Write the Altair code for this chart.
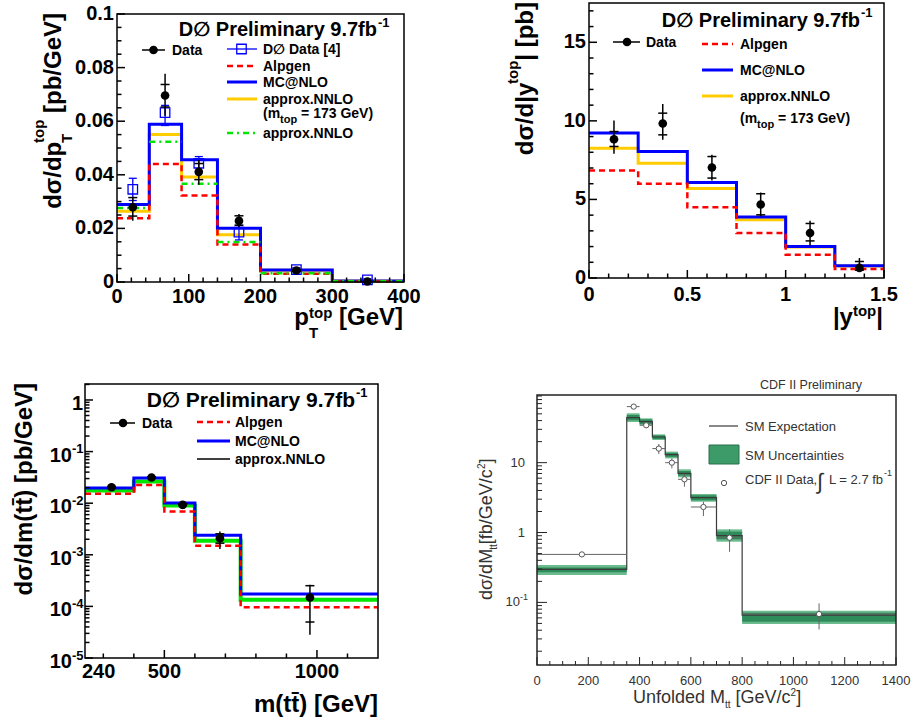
import altair as alt
import pandas as pd

SANS = "Liberation Sans, DejaVu Sans, sans-serif"
BLUE, RED, YELLOW, GREEN = "#0000ff", "#ff0000", "#ffcc00", "#00e600"
CDF_INK = "#333333"
BAND_OUTER, BAND_INNER, SM_LINE = "#6cbb8f", "#2f8b5a", "#3a3a3a"

# ---------------------------------------------------------------- top left: p_T(top)
PT_EDGES = [0, 45, 90, 140, 200, 300, 400]
PT_MCNLO = [0.0289, 0.0589, 0.0456, 0.0201, 0.0045, 0.0004]
PT_ALPGEN = [0.0238, 0.0440, 0.0323, 0.0140, 0.0031, 0.0002]
PT_NNLO_173 = [0.0264, 0.0550, 0.0392, 0.0176, 0.0044, 0.0004]
PT_NNLO = [0.0276, 0.0523, 0.0367, 0.0149, 0.0033, 0.0003]
PT_X = [22, 67, 114, 170, 250, 349]
PT_DATA = [0.0279, 0.0696, 0.0411, 0.0228, 0.0043, 0.0002]
PT_DATA_LO = [0.0229, 0.0620, 0.0363, 0.0204, 0.0037, 0.0000]
PT_DATA_HI = [0.0318, 0.0777, 0.0455, 0.0254, 0.0049, 0.0008]
PT_STAT_LO = [0.0246, 0.0653, 0.0382, 0.0212, 0.0040, 0.0001]
PT_STAT_HI = [0.0315, 0.0737, 0.0442, 0.0247, 0.0047, 0.0005]
PT_OLD = [0.0346, 0.0632, 0.0443, 0.0186, 0.0046, 0.0008]
PT_OLD_LO = [0.0304, 0.0584, 0.0410, 0.0157, 0.0039, 0.0004]
PT_OLD_HI = [0.0387, 0.0659, 0.0468, 0.0211, 0.0053, 0.0012]

# ---------------------------------------------------------------- top right: |y(top)|
Y_EDGES = [0, 0.25, 0.5, 0.75, 1.0, 1.25, 1.5]
Y_MCNLO = [9.22, 8.05, 6.08, 3.88, 2.01, 0.78]
Y_NNLO = [8.26, 7.31, 5.70, 3.71, 1.98, 0.76]
Y_ALPGEN = [6.84, 6.00, 4.51, 2.86, 1.48, 0.57]
Y_X = [0.127, 0.375, 0.625, 0.873, 1.124, 1.375]
Y_DATA = [8.83, 9.83, 7.03, 4.68, 2.86, 0.64]
Y_DATA_LO = [7.90, 8.79, 6.21, 3.92, 2.05, 0.42]
Y_DATA_HI = [10.02, 11.08, 7.84, 5.44, 3.64, 1.27]
Y_STAT_LO = [8.37, 9.11, 6.36, 4.02, 2.36, 0.50]
Y_STAT_HI = [9.32, 10.49, 7.73, 5.36, 3.47, 1.05]

# ---------------------------------------------------------------- bottom left: m(ttbar)
M_EDGES = [240, 400, 500, 600, 750, 1200]
M_MCNLO = [0.0198, 0.0309, 0.0101, 0.0024, 1.73e-4]
M_NNLO = [0.0176, 0.0262, 0.0090, 0.00187, 1.35e-4]
M_ALPGEN = [0.0152, 0.0226, 0.0069, 0.00149, 9.6e-5]
M_X = [327, 458, 560, 682, 977]
M_DATA = [0.0204, 0.0314, 0.0093, 0.0021, 1.49e-4]
M_DATA_LO = [0.0190, 0.0296, 0.0086, 0.00129, 2.83e-5]
M_DATA_HI = [0.0219, 0.0333, 0.0100, 0.00283, 2.63e-4]
M_STAT_LO = [0.0197, 0.0305, 0.0090, 0.00168, 4.98e-5]
M_STAT_HI = [0.0211, 0.0323, 0.0096, 0.00255, 2.52e-4]

# ---------------------------------------------------------------- bottom right: CDF unfolded M(ttbar)
CDF_EDGES = [0, 350, 400, 450, 500, 550, 600, 700, 800, 1400]
CDF_SM = [0.297, 44.1, 38.6, 23.3, 13.0, 7.04, 3.15, 0.901, 0.0659]
CDF_OUT_LO = [0.246, 38.2, 34.6, 21.1, 11.5, 6.17, 2.76, 0.739, 0.0489]
CDF_OUT_HI = [0.342, 50.9, 43.1, 25.4, 14.4, 8.03, 3.56, 1.11, 0.076]
CDF_IN_LO = [0.269, 40.4, 35.8, 21.8, 12.1, 6.51, 2.89, 0.798, 0.0529]
CDF_IN_HI = [0.317, 48.1, 41.7, 24.6, 13.8, 7.60, 3.41, 1.03, 0.0711]
CDF_X = [175, 377, 426, 475, 526, 575, 649, 751, 1100]
CDF_DATA = [0.486, 63.4, 34.3, 15.9, 10.0, 5.77, 2.32, 0.843, 0.068]
CDF_LO = [0.470, 59.5, 31.5, 13.3, 8.3, 4.53, 1.72, 0.53, 0.041]
CDF_HI = [0.502, 67.5, 37.5, 18.5, 11.5, 6.89, 2.76, 1.11, 0.0968]

# ---------------------------------------------------------------- axis ticks
PT_XMAJ = [0, 100, 200, 300, 400]
PT_XMIN = [v for v in range(20, 400, 20) if v % 100]
PT_YMAJ = [0, 0.02, 0.04, 0.06, 0.08, 0.1]
PT_YLAB = ["0", "0.02", "0.04", "0.06", "0.08", "0.1"]
PT_YMIN = [k * 0.005 for k in range(1, 20) if k % 4]
Y_XMAJ, Y_XLAB = [0, 0.5, 1.0, 1.5], ["0", "0.5", "1", "1.5"]
Y_XMIN = [k / 10 for k in range(1, 15) if k % 5]
Y_YMAJ, Y_YLAB = [0, 5, 10, 15], ["0", "5", "10", "15"]
Y_YMIN = [k for k in range(1, 18) if k % 5]
M_XMAJ, M_XLAB = [500, 1000], ["500", "1000"]
M_XMIN = [300, 400, 600, 700, 800, 900, 1100]
M_YMAJ = [1e-5, 1e-4, 1e-3, 1e-2, 1e-1]
M_YEXP = ["-5", "-4", "-3", "-2", "-1"]
M_YMIN = [m * 10.0 ** e for e in range(-5, 1) for m in range(2, 10) if m * 10.0 ** e <= 2.0]
CDF_XMAJ = [0, 200, 400, 600, 800, 1000, 1200, 1400]
CDF_XLAB = [str(v) for v in CDF_XMAJ]
CDF_XMIN = [v for v in range(50, 1400, 50) if v % 200]
CDF_YMIN = [m * 10.0 ** e for e in range(-2, 2) for m in range(2, 10) if 0.0127 <= m * 10.0 ** e <= 93]

# Arial / Liberation Sans advance widths (em) used to chain sub/superscripts
_BOLD = dict(zip(" ()[]/|.,-=0123456789",
                 [.278, .333, .333, .333, .333, .278, .280, .278, .278, .333, .584] + [.556] * 10))
_BOLD.update({"D": .722, "G": .778, "M": .833, "T": .611, "V": .667, "a": .556, "b": .611,
              "d": .611, "e": .556, "m": .889, "o": .611, "p": .611, "t": .333, "y": .556, "σ": .63})
_REG = dict(zip(" ()[]/|.,-=0123456789",
                [.278, .333, .333, .278, .278, .278, .260, .278, .278, .333, .584] + [.556] * 10))
_REG.update({"G": .778, "M": .833, "U": .722, "V": .667, "b": .556, "c": .5, "d": .556, "e": .556,
             "f": .278, "l": .222, "n": .556, "o": .556, "t": .278, "σ": .57})


def text_width(s, size, bold):
    table = _BOLD if bold else _REG
    return sum(table.get(ch, 0.6) for ch in s) * size


ONE = pd.DataFrame({"k": [0]})


class Panel:
    """One framed plot whose scales map straight onto page pixels."""

    def __init__(self, left, top, w, h, xdom, ydom, ylog=False):
        self.left, self.top, self.w, self.h = left, top, w, h
        self.bottom = top + h
        self.xdom, self.ydom = xdom, ydom
        self.xs = alt.Scale(domain=xdom, range=[left, left + w], nice=False, zero=False)
        if ylog:
            self.ys = alt.Scale(type="log", domain=ydom, range=[top + h, top], nice=False)
        else:
            self.ys = alt.Scale(domain=ydom, range=[top + h, top], nice=False, zero=False)
        self.layers = []

    def X(self, f):
        return alt.X(f, type="quantitative", scale=self.xs, axis=None)

    def Y(self, f):
        return alt.Y(f, type="quantitative", scale=self.ys, axis=None)

    def add(self, ch):
        self.layers.append(ch)

    # ---- annotations (page pixels)
    def text(self, s, x, y, size, angle=0, align="left", baseline="alphabetic",
             bold=True, color="black"):
        self.add(alt.Chart(ONE).mark_text(
            text=s, font=SANS, fontSize=size, angle=angle, align=align, baseline=baseline,
            fontWeight="bold" if bold else "normal", color=color,
        ).encode(x=alt.value(float(x)), y=alt.value(float(y))))

    def rich(self, parts, x, y, angle=0, anchor="start", bold=True, color="black"):
        total = sum(text_width(t, s, bold) for t, s, r, adv in parts if adv)
        pos = {"start": 0.0, "end": -total, "middle": -total / 2}[anchor]
        for t, s, r, adv in parts:
            body = t.lstrip(" ")
            lead = text_width(t[: len(t) - len(body)], s, bold)
            if angle == 0:
                px, py = x + pos + lead, y - r
            else:
                px, py = x - r, y - pos - lead
            self.text(body, px, py, s, angle=angle, bold=bold, color=color)
            if adv:
                pos += text_width(t, s, bold)

    def seg(self, x1, x2, y, color, width, dash=None):
        kw = dict(color=color, strokeWidth=width)
        if dash:
            kw["strokeDash"] = dash
        self.add(alt.Chart(ONE).mark_rule(**kw).encode(
            x=alt.value(float(x1)), x2=alt.value(float(x2)), y=alt.value(float(y))))

    def dot(self, x, y, **mk):
        self.add(alt.Chart(ONE).mark_point(opacity=1, **mk).encode(
            x=alt.value(float(x)), y=alt.value(float(y))))

    def box(self, x1, x2, y1, y2, **mk):
        self.add(alt.Chart(ONE).mark_rect(**mk).encode(
            x=alt.value(float(x1)), x2=alt.value(float(x2)),
            y=alt.value(float(y1)), y2=alt.value(float(y2))))

    # ---- data layers
    def hist(self, edges, values, color, width, dash=None):
        df = pd.DataFrame({"x": list(edges), "y": list(values) + [values[-1]]})
        kw = dict(color=color, strokeWidth=width, interpolate="step-after")
        if dash:
            kw["strokeDash"] = dash
        self.add(alt.Chart(df).mark_line(**kw).encode(x=self.X("x"), y=self.Y("y")))

    def flat(self, edges, values, color, width, dash=None):
        df = pd.DataFrame({"a": edges[:-1], "b": edges[1:], "y": values})
        kw = dict(color=color, strokeWidth=width)
        if dash:
            kw["strokeDash"] = dash
        self.add(alt.Chart(df).mark_rule(**kw).encode(x=self.X("a"), x2="b", y=self.Y("y")))

    def band(self, edges, lo, hi, color):
        df = pd.DataFrame({"a": edges[:-1], "b": edges[1:], "lo": lo, "hi": hi})
        self.add(alt.Chart(df).mark_rect(color=color, opacity=1).encode(
            x=self.X("a"), x2="b", y=self.Y("lo"), y2="hi"))

    def vbars(self, xs, lo, hi, color, width):
        df = pd.DataFrame({"x": xs, "lo": lo, "hi": hi})
        self.add(alt.Chart(df).mark_rule(color=color, strokeWidth=width).encode(
            x=self.X("x"), y=self.Y("lo"), y2="hi"))

    def hbars(self, x1, x2, ys, color, width):
        df = pd.DataFrame({"a": x1, "b": x2, "y": ys})
        self.add(alt.Chart(df).mark_rule(color=color, strokeWidth=width).encode(
            x=self.X("a"), x2="b", y=self.Y("y")))

    def caps(self, xs, ys, color, size, thickness):
        df = pd.DataFrame({"x": xs, "y": ys})
        self.add(alt.Chart(df).mark_tick(orient="horizontal", color=color, size=size,
                                         thickness=thickness, opacity=1).encode(
            x=self.X("x"), y=self.Y("y")))

    def markers(self, xs, ys, **mk):
        df = pd.DataFrame({"x": xs, "y": ys})
        self.add(alt.Chart(df).mark_point(opacity=1, **mk).encode(x=self.X("x"), y=self.Y("y")))

    # ---- frame and axes (inward ticks, labels)
    def frame(self, color="black", width=1.5):
        df = pd.DataFrame({"x0": [self.xdom[0]], "x1": [self.xdom[1]],
                           "y0": [self.ydom[0]], "y1": [self.ydom[1]]})
        self.add(alt.Chart(df).mark_rect(fillOpacity=0, stroke=color, strokeWidth=width).encode(
            x=self.X("x0"), x2="x1", y=self.Y("y0"), y2="y1"))

    def xticks(self, values, length, color="black", width=1.5):
        df = pd.DataFrame({"v": values})
        self.add(alt.Chart(df).mark_rule(color=color, strokeWidth=width).encode(
            x=self.X("v"), y=alt.value(self.bottom), y2=alt.value(self.bottom - length)))

    def yticks(self, values, length, color="black", width=1.5):
        df = pd.DataFrame({"v": values})
        self.add(alt.Chart(df).mark_rule(color=color, strokeWidth=width).encode(
            y=self.Y("v"), x=alt.value(self.left), x2=alt.value(self.left + length)))

    def xlabels(self, values, texts, dy, size, bold=True, color="black", align="center", dx=0):
        df = pd.DataFrame({"v": values, "t": texts})
        self.add(alt.Chart(df).mark_text(
            font=SANS, fontSize=size, fontWeight="bold" if bold else "normal", color=color,
            align=align, baseline="top", dx=dx,
        ).encode(x=self.X("v"), y=alt.value(self.bottom + dy), text=alt.Text("t:N")))

    def ylabels(self, values, texts, dx, size, bold=True, color="black", align="right",
                baseline="middle", dy=0):
        df = pd.DataFrame({"v": values, "t": texts})
        self.add(alt.Chart(df).mark_text(
            font=SANS, fontSize=size, fontWeight="bold" if bold else "normal", color=color,
            align=align, baseline=baseline, dy=dy,
        ).encode(y=self.Y("v"), x=alt.value(self.left + dx), text=alt.Text("t:N")))

    def chart(self):
        return alt.layer(*self.layers)


DASH = [6, 4]
DASHDOT = [6, 4, 2, 4]

# ================================================================ p_T panel
p1 = Panel(117, 14, 287, 268, [0, 400], [0, 0.1])
p1.hist(PT_EDGES, PT_NNLO_173, YELLOW, 3)
p1.hist(PT_EDGES, PT_MCNLO, BLUE, 3)
p1.hist(PT_EDGES, PT_ALPGEN, RED, 2.5, DASH)
p1.flat(PT_EDGES, PT_NNLO, GREEN, 2.5, DASHDOT)
p1.vbars(PT_X, PT_OLD_LO, PT_OLD_HI, BLUE, 1.3)
p1.caps(PT_X, PT_OLD_LO, BLUE, 8, 1.3)
p1.caps(PT_X, PT_OLD_HI, BLUE, 8, 1.3)
p1.markers(PT_X, PT_OLD, shape="square", filled=False, size=90, strokeWidth=1.3, color=BLUE)
p1.vbars(PT_X, PT_DATA_LO, PT_DATA_HI, "black", 1.5)
p1.caps(PT_X, PT_STAT_LO, "black", 9, 1.5)
p1.caps(PT_X, PT_STAT_HI, "black", 9, 1.5)
p1.markers(PT_X, PT_DATA, shape="circle", filled=True, size=75, color="black")
p1.frame()
p1.xticks(PT_XMAJ, 8)
p1.xticks(PT_XMIN, 4.5)
p1.yticks(PT_YMAJ, 8)
p1.yticks(PT_YMIN, 4.5)
p1.ylabels(PT_YMAJ, PT_YLAB, -3, 20)
p1.xlabels(PT_XMAJ, [str(v) for v in PT_XMAJ], 5, 20)
p1.rich([("dσ/dp", 24, 0, True), ("T", 15, -11, False), ("top", 15, 17, True),
         (" [pb/GeV]", 24, 0, True)], 61, 13, angle=270, anchor="end")
p1.rich([("p", 24, 0, True), ("T", 15, -13, False), ("top", 15, 7, True),
         (" [GeV]", 24, 0, True)], 403, 325, anchor="end")
p1.text("D∅ Preliminary 9.7fb", 377, 36, 20, align="right")
p1.text("-1", 378, 27, 13)
p1.seg(142, 165, 50, "black", 1.5)
p1.dot(153.5, 50, shape="circle", filled=True, size=75, color="black")
p1.text("Data", 172, 55, 14)
p1.seg(227, 257, 49, BLUE, 1.3)
p1.dot(241.5, 49, shape="square", filled=False, size=90, strokeWidth=1.3, color=BLUE)
p1.text("D∅ Data [4]", 263, 54, 14)
p1.seg(227, 257, 66, RED, 2.5, DASH)
p1.text("Alpgen", 263, 71, 14)
p1.seg(227, 257, 82, BLUE, 3)
p1.text("MC@NLO", 263, 87, 14)
p1.seg(227, 257, 99, YELLOW, 3)
p1.text("approx.NNLO", 263, 104, 14)
p1.rich([("(m", 14, 0, True), ("top", 11, -5, True), (" = 173 GeV)", 14, 0, True)], 263, 118)
p1.seg(227, 257, 133, GREEN, 2.5, DASHDOT)
p1.text("approx.NNLO", 263, 138, 14)

# ================================================================ |y| panel
p2 = Panel(589, 3, 295, 275, [0, 1.5], [0, 17.5])
p2.hist(Y_EDGES, Y_NNLO, YELLOW, 3)
p2.hist(Y_EDGES, Y_MCNLO, BLUE, 3)
p2.hist(Y_EDGES, Y_ALPGEN, RED, 2.5, DASH)
p2.vbars(Y_X, Y_DATA_LO, Y_DATA_HI, "black", 1.5)
p2.caps(Y_X, Y_STAT_LO, "black", 9, 1.5)
p2.caps(Y_X, Y_STAT_HI, "black", 9, 1.5)
p2.markers(Y_X, Y_DATA, shape="circle", filled=True, size=75, color="black")
p2.frame()
p2.xticks(Y_XMAJ, 8)
p2.xticks(Y_XMIN, 4.5)
p2.yticks(Y_YMAJ, 8)
p2.yticks(Y_YMIN, 4.5)
p2.ylabels(Y_YMAJ, Y_YLAB, -3, 20)
p2.xlabels(Y_XMAJ, Y_XLAB, 7, 20)
p2.rich([("dσ/d|y", 24, 0, True), ("top", 15, 15, True), ("|", 24, 0, True),
         (" [pb]", 24, 0, True)], 533, 2, angle=270, anchor="end")
p2.rich([("|y", 24, 0, True), ("top", 15, 9, True), ("|", 24, 0, True)], 883, 325, anchor="end")
p2.text("D∅ Preliminary 9.7fb", 860, 27, 20, align="right")
p2.text("-1", 861, 17, 13)
p2.seg(613, 640, 42, "black", 1.5)
p2.dot(627, 42, shape="circle", filled=True, size=75, color="black")
p2.text("Data", 646, 47, 14)
p2.seg(702, 733, 44, RED, 2.5, DASH)
p2.text("Alpgen", 740, 49, 14)
p2.seg(702, 733, 70, BLUE, 3)
p2.text("MC@NLO", 740, 75, 14)
p2.seg(702, 733, 96, YELLOW, 3)
p2.text("approx.NNLO", 740, 101, 14)
p2.rich([("(m", 14, 0, True), ("top", 11, -5, True), (" = 173 GeV)", 14, 0, True)], 740, 123)

# ================================================================ m(ttbar) panel
p3 = Panel(85, 384, 293, 274, [240, 1200], [1e-5, 2.04], ylog=True)
p3.hist(M_EDGES, M_NNLO, GREEN, 4)
p3.hist(M_EDGES, M_MCNLO, BLUE, 3)
p3.hist(M_EDGES, M_ALPGEN, RED, 2.5, DASH)
p3.vbars(M_X, M_DATA_LO, M_DATA_HI, "black", 1.5)
p3.caps(M_X, M_STAT_LO, "black", 9, 1.5)
p3.caps(M_X, M_STAT_HI, "black", 9, 1.5)
p3.markers(M_X, M_DATA, shape="circle", filled=True, size=75, color="black")
p3.frame()
p3.xticks(M_XMAJ, 8)
p3.xticks(M_XMIN, 4.5)
p3.yticks(M_YMAJ + [1], 8)
p3.yticks(M_YMIN, 4.5)
p3.ylabels(M_YMAJ, ["10"] * len(M_YMAJ), -13, 20, baseline="alphabetic", dy=10)
p3.ylabels(M_YMAJ, M_YEXP, -13, 13, align="left", baseline="alphabetic", dy=1.5)
p3.ylabels([1], ["1"], -2, 20, baseline="alphabetic", dy=10)
p3.xlabels([240], ["240"], 4, 20, align="left", dx=-3)
p3.xlabels(M_XMAJ, M_XLAB, 4, 20)
p3.text("dσ/dm(tt\u0304) [pb/GeV]", 32, 383, 24, angle=270, align="right")
p3.text("m(tt\u0304) [GeV]", 378, 712, 24, align="right")
p3.text("D∅ Preliminary 9.7fb", 355, 407, 21, align="right")
p3.text("-1", 356, 397, 13)
p3.seg(110, 135, 423, "black", 1.5)
p3.dot(123, 423, shape="circle", filled=True, size=75, color="black")
p3.text("Data", 142, 428, 14)
p3.seg(197, 230, 422, RED, 2.5, DASH)
p3.text("Alpgen", 235, 427, 14)
p3.seg(197, 230, 441, BLUE, 3)
p3.text("MC@NLO", 235, 446, 14)
p3.seg(197, 230, 459, "black", 1.5)
p3.text("approx.NNLO", 235, 464, 14)

# ================================================================ CDF panel
p4 = Panel(537, 395, 359, 270, [0, 1400], [0.0127, 93], ylog=True)
p4.band(CDF_EDGES, CDF_OUT_LO, CDF_OUT_HI, BAND_OUTER)
p4.band(CDF_EDGES, CDF_IN_LO, CDF_IN_HI, BAND_INNER)
p4.hist(CDF_EDGES, CDF_SM, SM_LINE, 1.2)
p4.hbars(CDF_EDGES[:-1], CDF_EDGES[1:], CDF_DATA, "#666666", 1)
p4.vbars(CDF_X, CDF_LO, CDF_HI, "#666666", 1)
p4.markers(CDF_X, CDF_DATA, shape="circle", fill="white", stroke="#555555", strokeWidth=1, size=28)
p4.frame(color="#222222")
p4.xticks(CDF_XMAJ, 8, color="#222222", width=1)
p4.xticks(CDF_XMIN, 4, color="#222222", width=1)
p4.yticks([0.1, 1, 10], 10, color="#222222", width=1)
p4.yticks(CDF_YMIN, 5, color="#222222", width=1)
p4.xlabels(CDF_XMAJ, CDF_XLAB, 10, 13, bold=False, color=CDF_INK)
p4.ylabels([1, 10], ["1", "10"], -12, 13, bold=False, color=CDF_INK)
p4.ylabels([0.1], ["10"], -17, 13, bold=False, color=CDF_INK)
p4.ylabels([0.1], ["-1"], -17, 9, bold=False, color=CDF_INK, align="left", dy=-5)
p4.rich([("Unfolded M", 18, 0, True), ("tt", 10, -5, True), (" [GeV/c", 18, 0, True),
         ("2", 10, 7, True), ("]", 18, 0, True)], 633, 703, bold=False, color=CDF_INK)
p4.rich([("dσ/dM", 18, 0, True), ("tt", 10, -5, True), ("[fb/GeV/c", 18, 0, True),
         ("2", 10, 7, True), ("]", 18, 0, True)], 492, 600, angle=270, bold=False, color=CDF_INK)
p4.text("CDF II Preliminary", 760, 389, 12.5, bold=False, color=CDF_INK)
p4.seg(709, 738, 426, SM_LINE, 1.2)
p4.text("SM Expectation", 745, 430.5, 13, bold=False, color=CDF_INK)
p4.box(709, 739, 445, 464, fill="#3d9b6a", stroke="#2a6e4a", strokeWidth=1)
p4.text("SM Uncertainties", 745, 460, 13, bold=False, color=CDF_INK)
p4.dot(724, 483, shape="circle", fill="white", stroke="#555555", strokeWidth=1, size=28)
p4.text("CDF II Data,", 745, 484, 13, bold=False, color=CDF_INK)
p4.text("∫", 817, 489, 22, bold=False, color=CDF_INK)
p4.text("L = 2.7 fb", 829, 484, 13, bold=False, color=CDF_INK)
p4.text("-1", 884, 476, 9, bold=False, color=CDF_INK)

# ================================================================ page: one canvas, four scale sets
chart = alt.layer(p1.chart(), p2.chart(), p3.chart(), p4.chart()).resolve_scale(
    x="independent", y="independent"
).properties(
    width=912, height=722, padding=0, background="white",
    autosize=alt.AutoSizeParams(type="none"),
).configure_view(strokeWidth=0)

chart.save("out.html", embed_options={"renderer": "svg", "actions": False})
